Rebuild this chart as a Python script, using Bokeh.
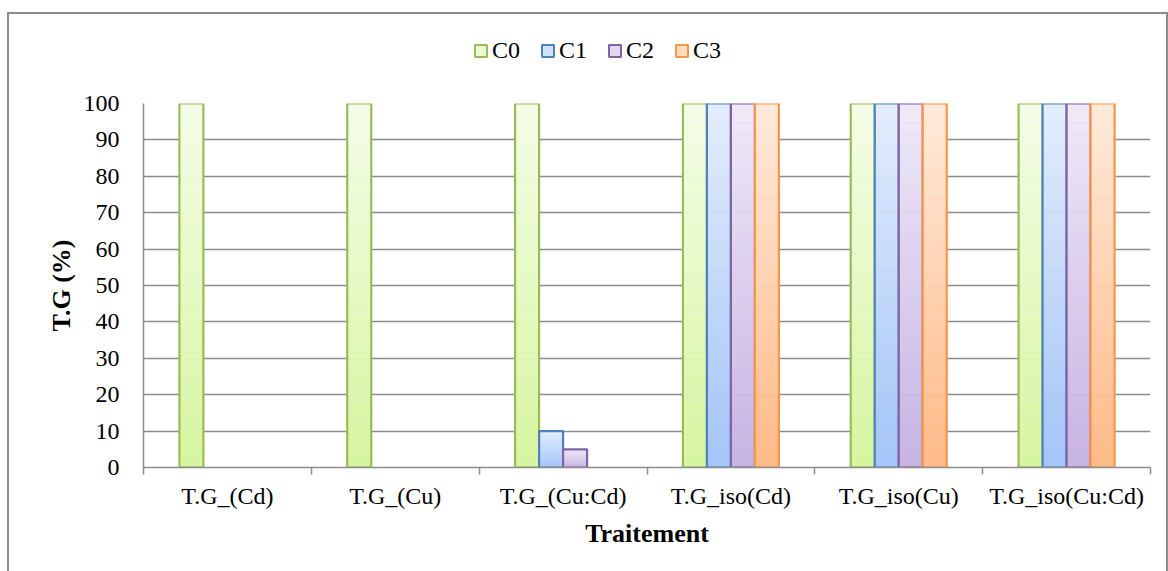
from bokeh.plotting import figure
from bokeh.models import Range1d, FixedTicker, ColumnDataSource, Legend, LegendItem
from bokeh.layouts import column
from bokeh.transform import dodge
from bokeh.embed import file_html
from bokeh.resources import INLINE

# ---- data ----
categories = ["T.G_(Cd)", "T.G_(Cu)", "T.G_(Cu:Cd)", "T.G_iso(Cd)", "T.G_iso(Cu)", "T.G_iso(Cu:Cd)"]
series_names = ["C0", "C1", "C2", "C3"]
C0 = [100, 100, 100, 100, 100, 100]
C1 = [0, 0, 10, 100, 100, 100]
C2 = [0, 0, 5, 100, 100, 100]
C3 = [0, 0, 0, 100, 100, 100]
y_ticks = [0, 10, 20, 30, 40, 50, 60, 70, 80, 90, 100]

series_values = [C0, C1, C2, C3]

# ---- styles ----
FONT = "Liberation Serif"
outline_colors = ["#9BBB59", "#4F81BD", "#8064A2", "#F79646"]
top_colors = ["#F4FDE8", "#E3EDFC", "#EFE9F7", "#FFEADB"]
bottom_colors = ["#D6F59F", "#A3C4F8", "#C6B3E3", "#FFBA88"]
legend_fill = ["#EAFBD2", "#D2E2FB", "#E2D9F1", "#FEDCC2"]
GRAY = "#8C8C8C"
N_SLICES = 40
BAR_W = 0.143
W = 1157
LEG_H = 76


def hex2rgb(h):
    h = h.lstrip("#")
    return tuple(int(h[i:i + 2], 16) for i in (0, 2, 4))


def mix(c1, c2, t):
    a, b = hex2rgb(c1), hex2rgb(c2)
    return "#%02x%02x%02x" % tuple(int(round(a[i] + (b[i] - a[i]) * t)) for i in range(3))


# ---- legend strip ----
lf = figure(width=W, height=LEG_H, output_backend="svg", toolbar_location=None,
            x_range=Range1d(0, 1), y_range=Range1d(0, 1), x_axis_type=None, y_axis_type=None,
            min_border=0)
lf.outline_line_color = None
lf.background_fill_color = "white"
lf.border_fill_color = "white"

# ---- main chart ----
p = figure(width=W, height=557 - LEG_H, output_backend="svg", toolbar_location=None,
           x_range=Range1d(0, len(categories)), y_range=Range1d(0, 100),
           min_border_left=134, min_border_right=16, min_border_top=13, min_border_bottom=104)
p.outline_line_color = None
p.background_fill_color = "white"
p.border_fill_color = "white"

centers = [i + 0.5 for i in range(len(categories))]
offsets = [(-1.5 + k) * BAR_W for k in range(len(series_names))]

legend_items = []
for s, (name, vals) in enumerate(zip(series_names, series_values)):
    xs, bots, tops, cols = [], [], [], []
    for c, v in zip(centers, vals):
        if v <= 0:
            continue
        for k in range(N_SLICES):
            xs.append(c)
            bots.append(v * k / N_SLICES)
            tops.append(v * (k + 1) / N_SLICES)
            cols.append(mix(bottom_colors[s], top_colors[s], (k + 0.5) / N_SLICES))
    src = ColumnDataSource(dict(x=xs, bottom=bots, top=tops, color=cols))
    p.vbar(x=dodge("x", offsets[s], range=p.x_range), bottom="bottom", top="top", width=BAR_W,
           source=src, fill_color="color", line_color="color", line_width=0.6)
    # outline
    ox = [c for c, v in zip(centers, vals) if v > 0]
    ov = [v for v in vals if v > 0]
    osrc = ColumnDataSource(dict(x=ox, top=ov))
    p.vbar(x=dodge("x", offsets[s], range=p.x_range), bottom=0, top="top", width=BAR_W,
           source=osrc, fill_alpha=0, line_color=outline_colors[s], line_width=2.2)
    # legend swatch renderer (hidden; only its legend glyph is shown)
    lsrc = ColumnDataSource(dict(x=[0.5], top=[0.5]))
    lr = lf.vbar(x="x", top="top", width=0.01, source=lsrc, fill_color=legend_fill[s],
                 line_color=outline_colors[s], line_width=2, visible=False)
    legend_items.append(LegendItem(label=name, renderers=[lr], index=0))

legend = Legend(items=legend_items, orientation="horizontal", location=(330, 26),
                label_text_font=FONT, label_text_font_size="24px", label_text_color="black",
                glyph_width=15, glyph_height=15, label_standoff=4, spacing=20,
                padding=0, margin=0, border_line_color=None, background_fill_alpha=0,
                click_policy="none", inactive_fill_alpha=0)
lf.add_layout(legend, "center")

# axes
p.yaxis.ticker = FixedTicker(ticks=y_ticks)
p.yaxis.major_tick_out = 7
p.yaxis.major_tick_in = 0
p.yaxis.minor_tick_line_color = None
p.yaxis.major_label_standoff = 17
p.yaxis.axis_label = "T.G (%)"
p.yaxis.axis_label_standoff = 5

p.xaxis.ticker = FixedTicker(ticks=centers, minor_ticks=list(range(len(categories) + 1)))
p.xaxis.major_label_overrides = {c: lab for c, lab in zip(centers, categories)}
p.xaxis.major_tick_out = 0
p.xaxis.major_tick_in = 0
p.xaxis.minor_tick_out = 7
p.xaxis.minor_tick_in = 0
p.xaxis.minor_tick_line_color = GRAY
p.xaxis.major_label_standoff = 8
p.xaxis.axis_label = "Traitement"
p.xaxis.axis_label_standoff = 7

for ax in (p.xaxis, p.yaxis):
    ax.axis_line_color = GRAY
    ax.axis_line_width = 1.5
    ax.major_tick_line_color = GRAY if ax is p.yaxis else None
    ax.major_tick_line_width = 1.5
    ax.minor_tick_line_width = 1.5
    ax.major_label_text_font = FONT
    ax.major_label_text_font_size = "24px"
    ax.major_label_text_color = "black"
    ax.axis_label_text_font = FONT
    ax.axis_label_text_font_size = "26px"
    ax.axis_label_text_font_style = "bold"
    ax.axis_label_text_color = "black"

p.xgrid.grid_line_color = None
p.ygrid.ticker = FixedTicker(ticks=y_ticks)
p.ygrid.grid_line_color = GRAY
p.ygrid.grid_line_width = 1.5

layout = column(lf, p, spacing=0, margin=(12, 0, 0, 7),
                styles={"border-left": "2px solid #8C8C8C", "border-top": "2px solid #8C8C8C",
                        "border-right": "2px solid #8C8C8C"})

open("out.html", "w").write(file_html(layout, INLINE))
